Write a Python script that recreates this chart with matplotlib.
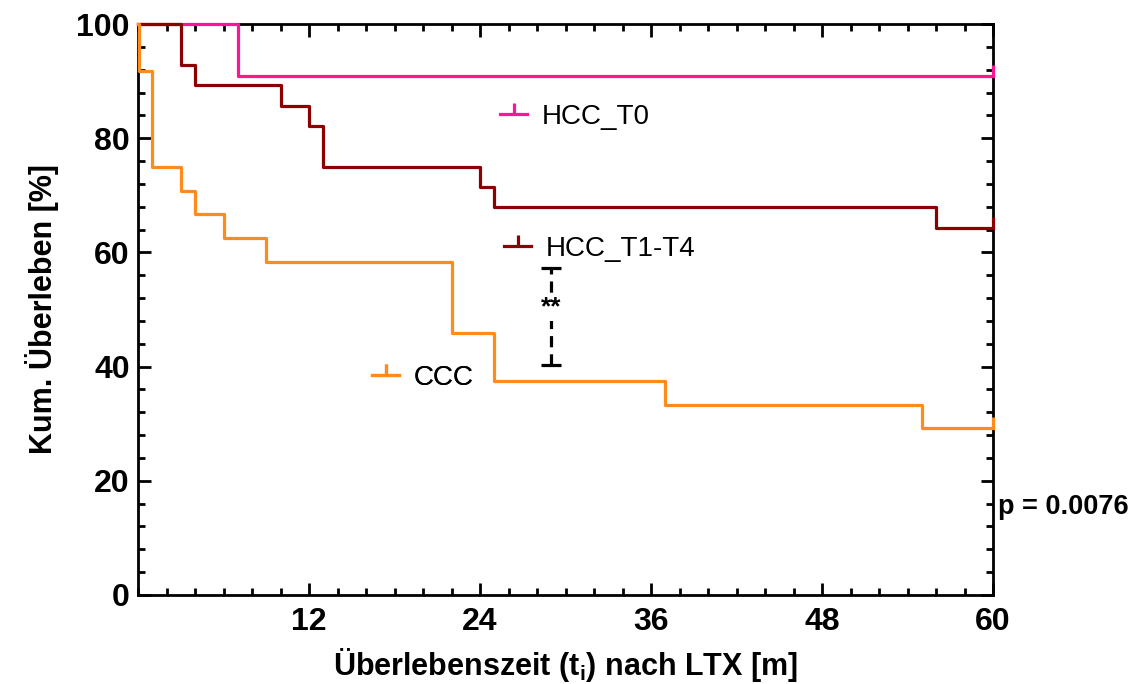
import matplotlib
matplotlib.use("Agg")
import matplotlib.pyplot as plt
from matplotlib.lines import Line2D
from matplotlib.ticker import MultipleLocator

# Kaplan-Meier step data (months, % survival)
t_t0 = [0, 7, 60]
s_t0 = [100, 90.9, 90.9]

t_t14 = [0, 3, 4, 10, 12, 13, 24, 25, 56, 60]
s_t14 = [100, 92.9, 89.3, 85.7, 82.1, 75.0, 71.4, 67.9, 64.3, 64.3]

t_ccc = [0, 0.1, 1, 3, 4, 6, 9, 22, 25, 37, 55, 60]
s_ccc = [100, 91.7, 75.0, 70.8, 66.7, 62.5, 58.3, 45.8, 37.5, 33.3, 29.2, 29.2]

groups = ["HCC_T0", "HCC_T1-T4", "CCC"]
colors = ["#ff1493", "#8b0000", "#ff8c1a"]

# significance bracket between HCC_T1-T4 and CCC
sig_x = 29
sig_lo, sig_hi = 40.3, 57.3
sig_label = "**"
p_text = "p = 0.0076"

xticks = [12, 24, 36, 48, 60]
yticks = [0, 20, 40, 60, 80, 100]

plt.rcParams["font.family"] = ["Liberation Sans", "DejaVu Sans"]
plt.rcParams["mathtext.fontset"] = "custom"
plt.rcParams["mathtext.rm"] = "Liberation Sans:bold"
plt.rcParams["mathtext.bf"] = "Liberation Sans:bold"
plt.rcParams["mathtext.it"] = "Liberation Sans:bold:italic"

W, H = 1138, 684
fig = plt.figure(figsize=(W / 100, H / 100), dpi=100)
ax = fig.add_axes([138 / W, 1 - 595 / H, (993 - 138) / W, (595 - 24) / H])

# censor tick: short vertical stroke upward from the point
censor = [(0, 0), (0, 1)]

series = [(t_t0, s_t0), (t_t14, s_t14), (t_ccc, s_ccc)]
for (t, s), c in zip(series, colors):
    ax.step(t, s, where="post", color=c, lw=2.3, clip_on=False, zorder=5)
    ax.plot(t[-1], s[-1], marker=censor, ms=16, mec=c, mfc="none", mew=2.3,
            clip_on=False, zorder=5)

ax.set_xlim(0, 60)
ax.set_ylim(0, 100)
ax.set_xticks(xticks)
ax.set_yticks(yticks)
ax.xaxis.set_minor_locator(MultipleLocator(2))
ax.yaxis.set_minor_locator(MultipleLocator(4))
ax.tick_params(which="both", direction="in", top=True, right=True, width=2, color="black")
ax.tick_params(which="major", length=9, labelsize=23, pad=6)
ax.tick_params(which="minor", length=5)
ax.tick_params(axis="x", which="major", pad=9)
for lab in ax.get_xticklabels() + ax.get_yticklabels():
    lab.set_fontweight("bold")
for sp in ax.spines.values():
    sp.set_linewidth(2)

ax.set_xlabel(r"Überlebenszeit (t$_{\mathrm{i}}$) nach LTX [m]", fontsize=22,
              fontweight="bold", labelpad=6)
ax.set_ylabel("Kum. Überleben [%]", fontsize=22, fontweight="bold", labelpad=12)

# legend entries, each placed separately next to its curve
legend_pos = [(500, 117), (504, 249), (372, 378)]
for g, c, (px, py) in zip(groups, colors, legend_pos):
    h = Line2D([], [], color=c, lw=2.3, marker=censor, ms=16, mec=c, mfc="none", mew=2.3)
    leg = ax.legend([h], [g], loc="center left",
                    bbox_to_anchor=(px / W, 1 - py / H), bbox_transform=fig.transFigure,
                    frameon=False, fontsize=20, handlelength=0.98, handletextpad=0.52,
                    borderpad=0, borderaxespad=0, numpoints=1)
    ax.add_artist(leg)

# significance bracket
ax.plot([sig_x, sig_x], [sig_lo, sig_hi], color="black", lw=2.3, ls=(0, (3.5, 2.2)),
        zorder=4)
ax.plot([sig_x, sig_x], [sig_lo, sig_hi], ls="none", marker="_", ms=15, mew=2.3,
        color="black", zorder=4)
ax.text(sig_x, 50.4, sig_label, ha="center", va="center", fontsize=19, fontweight="bold",
        bbox=dict(facecolor="white", edgecolor="none", pad=1.5), zorder=6)

ax.text(60.35, 15.4, p_text, ha="left", va="center", fontsize=19.5, fontweight="bold",
        clip_on=False)

fig.savefig("out.png", dpi=100)
